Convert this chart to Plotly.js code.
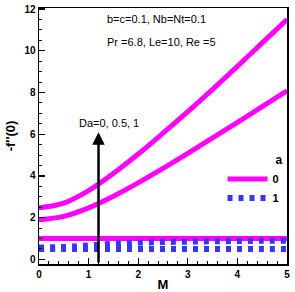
<!DOCTYPE html>
<html>
<head>
<meta charset="utf-8">
<script src="https://cdn.plot.ly/plotly-3.0.1.min.js"></script>
<style>html,body{margin:0;padding:0;background:#fff;}#chart{width:295px;height:292px;}</style>
</head>
<body>
<div id="chart"></div>
<script>
// M values
const M = [0, 0.5, 1, 1.5, 2, 2.5, 3, 3.5, 4, 4.5, 5];
// a = 0 (solid magenta)
const a0_Da0 = [1.0, 1.0, 1.0, 1.0, 1.0, 1.0, 1.0, 1.0, 1.0, 1.0, 1.0];
const a0_Da05 = [1.9, 2.06, 2.47, 3.03, 3.67, 4.36, 5.08, 5.82, 6.57, 7.32, 8.08];
const a0_Da1 = [2.47, 2.7, 3.3, 4.12, 5.05, 6.05, 7.08, 8.15, 9.25, 10.38, 11.5];
// a = 1 (dotted blue)
const a1_Da0 = [0.5, 0.5, 0.5, 0.5, 0.5, 0.5, 0.5, 0.5, 0.5, 0.5, 0.5];
const a1_Da1 = [0.57, 0.6, 0.67, 0.75, 0.8, 0.83, 0.85, 0.87, 0.88, 0.89, 0.89];

const MAG = '#ff00ff';
const BLUE = '#3636f4';
const solid = {color: MAG, width: 5, shape: 'spline', smoothing: 1};
const dotted = {color: BLUE, width: 6, dash: '5px,6px', shape: 'spline', smoothing: 1};

const traces = [
  {x: M, y: a0_Da1, mode: 'lines', line: solid, name: '0', showlegend: true, legendrank: 1},
  {x: M, y: a0_Da05, mode: 'lines', line: solid, showlegend: false},
  {x: M, y: a0_Da0, mode: 'lines', line: solid, showlegend: false},
  {x: M, y: a1_Da1, mode: 'lines', line: dotted, name: '1', showlegend: true, legendrank: 2},
  {x: M, y: a1_Da0, mode: 'lines', line: dotted, showlegend: false}
];

const font = 'Arial, "Liberation Sans", sans-serif';
const layout = {
  width: 295, height: 292,
  margin: {l: 39, r: 7.5, t: 8, b: 28},
  paper_bgcolor: '#fff', plot_bgcolor: '#fff',
  font: {family: font, color: '#000'},
  showlegend: true,
  legend: {
    x: 0.74, y: 0.45, xanchor: 'left', yanchor: 'top',
    bgcolor: 'rgba(0,0,0,0)', borderwidth: 0,
    font: {family: font, size: 11, color: '#000', weight: 'bold'},
    title: {text: '<b>a</b>', side: 'top right', font: {family: font, size: 12, color: '#000'}},
    tracegroupgap: 0, itemwidth: 40
  },
  xaxis: {
    range: [0, 5], dtick: 1, tick0: 0,
    ticks: 'inside', ticklen: 6, tickwidth: 1.2, tickcolor: '#000',
    minor: {dtick: 0.2, ticks: 'inside', ticklen: 3, tickwidth: 1, tickcolor: '#000'},
    showline: true, linecolor: '#000', linewidth: 1.5, mirror: true,
    showgrid: false, zeroline: false,
    tickfont: {family: font, size: 10, color: '#000', weight: 'bold'},
    title: {text: '<b>M</b>', font: {family: font, size: 13, color: '#000'}, standoff: 4}
  },
  yaxis: {
    range: [-0.22, 12.05], dtick: 2, tick0: 0,
    ticks: 'inside', ticklen: 6, tickwidth: 1.2, tickcolor: '#000',
    minor: {dtick: 0.5, ticks: 'inside', ticklen: 3, tickwidth: 1, tickcolor: '#000'},
    showline: true, linecolor: '#000', linewidth: 1.5, mirror: true,
    showgrid: false, zeroline: false,
    tickfont: {family: font, size: 10, color: '#000', weight: 'bold'},
    title: {text: "<b>-f''(0)</b>", font: {family: font, size: 13, color: '#000'}, standoff: 6}
  },
  annotations: [
    {x: 1.2, y: 6.1, ax: 1.2, ay: -0.22, xref: 'x', yref: 'y', axref: 'x', ayref: 'y',
     showarrow: true, arrowhead: 2, arrowsize: 1, arrowwidth: 2.5, arrowcolor: '#000', text: ''},
    {x: 1.41, y: 6.55, xref: 'x', yref: 'y', text: 'Da=0, 0.5, 1', showarrow: false,
     font: {family: font, size: 11, color: '#000'}},
    {x: 1.33, y: 11.52, xref: 'x', yref: 'y', xanchor: 'left', text: 'b=c=0.1, Nb=Nt=0.1', showarrow: false,
     font: {family: font, size: 11, color: '#000'}},
    {x: 1.33, y: 10.42, xref: 'x', yref: 'y', xanchor: 'left', text: 'Pr =6.8, Le=10, Re =5', showarrow: false,
     font: {family: font, size: 11, color: '#000'}}
  ]
};

Plotly.newPlot('chart', traces, layout, {displayModeBar: false, staticPlot: true});
</script>
</body>
</html>
